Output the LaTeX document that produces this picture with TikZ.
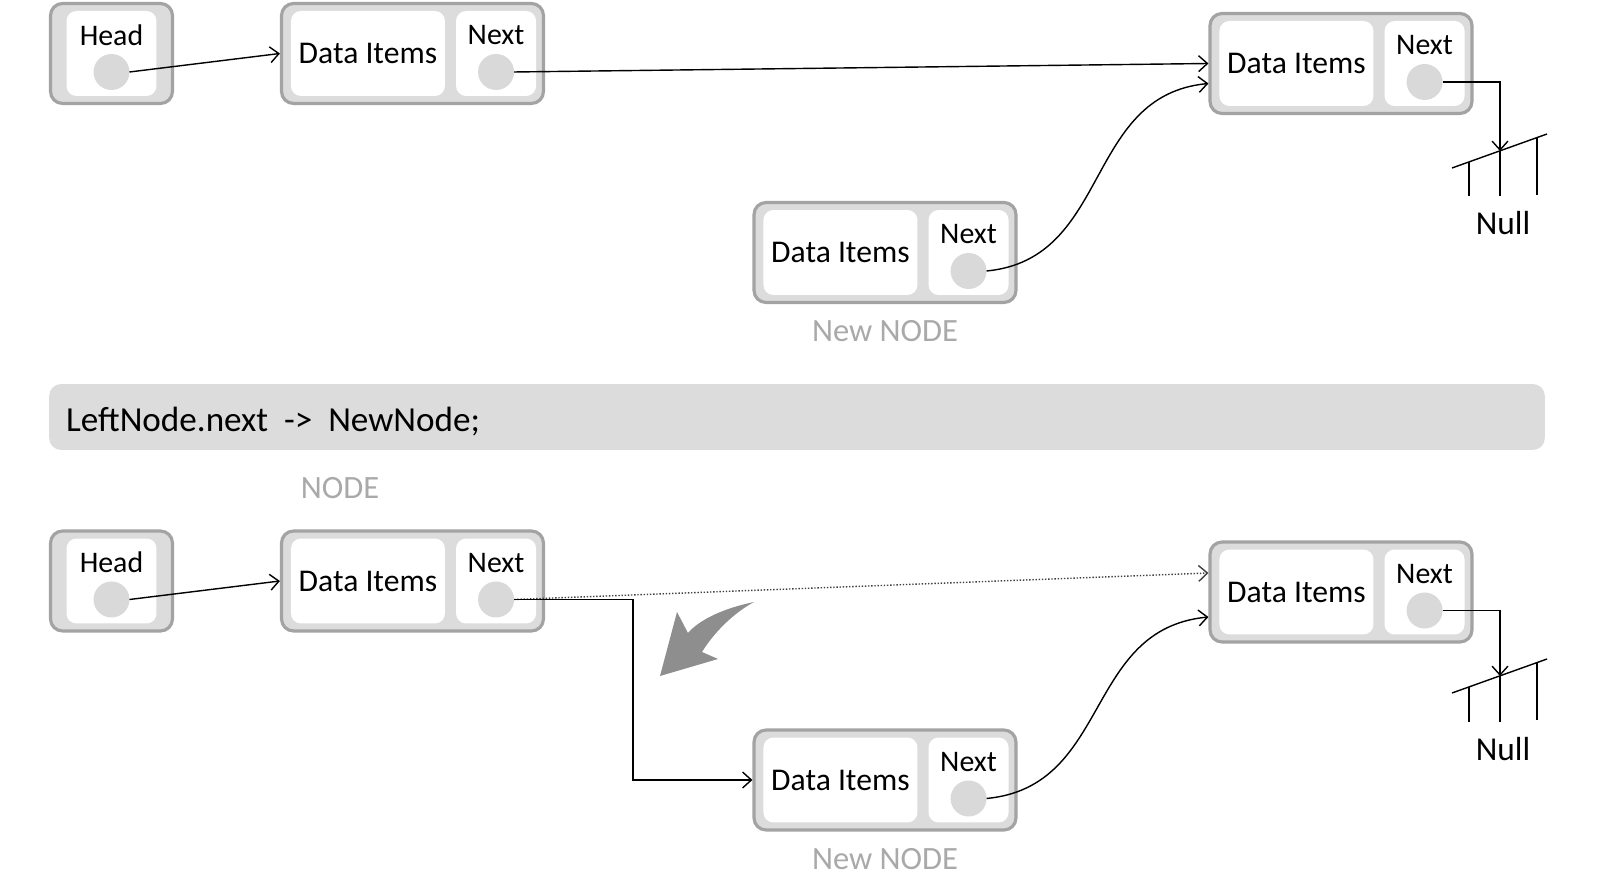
\documentclass[tikz,border=0pt]{standalone}
\usepackage{fontspec}
\setmainfont{Carlito}
\usetikzlibrary{positioning,arrows.meta}
\definecolor{boxfill}{HTML}{DCDCDC}
\definecolor{boxline}{HTML}{A3A3A3}
\definecolor{dotfill}{HTML}{D9D9D9}
\definecolor{capgray}{HTML}{A9A9A9}
\definecolor{swoosh}{HTML}{8E8E8E}
\tikzset{
  box/.style={draw=boxline,line width=1.8pt,fill=boxfill,rounded corners=0.24cm,minimum height=2cm,inner sep=0pt},
  cell/.style={fill=white,rounded corners=0.2cm,minimum height=1.7cm,inner sep=0pt,outer sep=0pt},
  datacell/.style={cell,minimum width=3.08cm,font=\fontsize{18}{20}\selectfont},
  nextcell/.style={cell,minimum width=1.6cm},
  lbl/.style={inner sep=0pt,font=\fontsize{17}{19}\selectfont},
  dot/.style={circle,fill=dotfill,minimum size=0.72cm,inner sep=0pt,outer sep=0pt},
  caption/.style={inner sep=0pt,text=capgray,font=\fontsize{18.5}{20}\selectfont},
  link/.style={-{Straight Barb[length=5pt,width=9pt]},line width=.8pt},
  banner/.style={fill=boxfill,rounded corners=0.24cm,minimum width=29.92cm,minimum height=1.32cm,inner sep=0pt},
}
\begin{document}
\begin{tikzpicture}[x=0.02cm,y=-0.02cm,line width=.8pt]
\useasboundingbox (0,0) rectangle (1602,884);
% before: head, left node, right node, new node
\node[box,minimum width=2.44cm] (hd1) at (111.5,53.5) {};
\node[cell,minimum width=1.8cm] (hd1c) at (hd1.center) {};
\node[lbl] (hd1t) at ([yshift=0.37cm]hd1c.center) {Head};
\node[dot] (hd1p) at ([yshift=-0.37cm]hd1c.center) {};

\node[box,minimum width=5.24cm] (ln1) at (412.5,53.5) {};
\node[datacell,right=0.22cm of ln1.west] (ln1d) {Data Items};
\node[nextcell,left=0.18cm of ln1.east] (ln1n) {};
\node[lbl] (ln1t) at ([yshift=0.36cm]ln1n.center) {Next};
\node[dot] (ln1p) at ([yshift=-0.37cm]ln1n.center) {};

\node[box,minimum width=5.24cm] (rn1) at (1341,63.5) {};
\node[datacell,right=0.22cm of rn1.west] (rn1d) {Data Items};
\node[nextcell,left=0.18cm of rn1.east] (rn1n) {};
\node[lbl] (rn1t) at ([yshift=0.36cm]rn1n.center) {Next};
\node[dot] (rn1p) at ([yshift=-0.37cm]rn1n.center) {};

\node[box,minimum width=5.24cm] (nn1) at (885,252.5) {};
\node[datacell,right=0.22cm of nn1.west] (nn1d) {Data Items};
\node[nextcell,left=0.18cm of nn1.east] (nn1n) {};
\node[lbl] (nn1t) at ([yshift=0.36cm]nn1n.center) {Next};
\node[dot] (nn1p) at ([yshift=-0.37cm]nn1n.center) {};
\node[caption,below=0.32cm of nn1] (nn1l) {New NODE};

\coordinate (gnd1) at (1500,151);
\begin{scope}[shift={(gnd1)}]
\draw (-48,17) -- (47,-17);
\draw (-31,11) -- (-31,45);
\draw (0,0) -- (0,45);
\draw (37,-13) -- (37,44);
\node[inner sep=0pt,font=\fontsize{19}{21}\selectfont] (null1) at (3,72) {Null};
\end{scope}

\draw[link] (hd1p.east) -- (ln1.west);
\draw[link] (ln1p.east) -- (rn1.west);
\draw[link] (nn1p.east) .. controls +(125,-12) and +(-125,12) .. ([yshift=-0.4cm]rn1.west);
\draw[link] (rn1p.east) -| (gnd1);

% the step
\node[banner] (code) at (797,417) {};
\node[anchor=base west,inner sep=0pt,font=\fontsize{20}{22}\selectfont] (codet)
  at ([xshift=0.34cm,yshift=-0.3cm]code.west) {LeftNode.next~~->~~NewNode;};

% after
\node[box,minimum width=2.44cm] (hd2) at (111.5,581) {};
\node[cell,minimum width=1.8cm] (hd2c) at (hd2.center) {};
\node[lbl] (hd2t) at ([yshift=0.37cm]hd2c.center) {Head};
\node[dot] (hd2p) at ([yshift=-0.37cm]hd2c.center) {};

\node[box,minimum width=5.24cm] (ln2) at (412.5,581) {};
\node[datacell,right=0.22cm of ln2.west] (ln2d) {Data Items};
\node[nextcell,left=0.18cm of ln2.east] (ln2n) {};
\node[lbl] (ln2t) at ([yshift=0.36cm]ln2n.center) {Next};
\node[dot] (ln2p) at ([yshift=-0.37cm]ln2n.center) {};
\node[caption,above=0.6cm of ln2,xshift=-1.45cm] (ln2l) {NODE};

\node[box,minimum width=5.24cm] (rn2) at (1341,592) {};
\node[datacell,right=0.22cm of rn2.west] (rn2d) {Data Items};
\node[nextcell,left=0.18cm of rn2.east] (rn2n) {};
\node[lbl] (rn2t) at ([yshift=0.36cm]rn2n.center) {Next};
\node[dot] (rn2p) at ([yshift=-0.37cm]rn2n.center) {};

\node[box,minimum width=5.24cm] (nn2) at (885,780) {};
\node[datacell,right=0.22cm of nn2.west] (nn2d) {Data Items};
\node[nextcell,left=0.18cm of nn2.east] (nn2n) {};
\node[lbl] (nn2t) at ([yshift=0.36cm]nn2n.center) {Next};
\node[dot] (nn2p) at ([yshift=-0.37cm]nn2n.center) {};
\node[caption,below=0.32cm of nn2] (nn2l) {New NODE};

\coordinate (gnd2) at (1500,676);
\begin{scope}[shift={(gnd2)}]
\draw (-48,17) -- (47,-17);
\draw (-31,11) -- (-31,46);
\draw (0,0) -- (0,46);
\draw (37,-13) -- (37,44);
\node[inner sep=0pt,font=\fontsize{19}{21}\selectfont] (null2) at (3,73) {Null};
\end{scope}

\draw[link] (hd2p.east) -- (ln2.west);
\draw[link,densely dotted,black!75] (ln2p.east) -- ([yshift=0.38cm]rn2.west);
\draw[link] (ln2p.east) -- ++(119,0) |- (nn2.west);
\draw[link] (nn2p.east) .. controls +(125,-12) and +(-125,12) .. ([yshift=-0.5cm]rn2.west);
\draw[link] (rn2p.east) -| (gnd2);

% grey hint arrow
\fill[swoosh] (754,602) .. controls (725,608) and (700,619) .. (688,633) -- (677,612)
  -- (660,676) -- (718,659) -- (702,652) .. controls (713,634) and (732,614) .. (754,602) -- cycle;
\end{tikzpicture}
\end{document}
